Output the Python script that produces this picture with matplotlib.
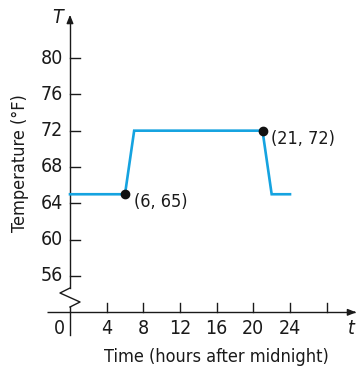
import matplotlib
matplotlib.use("Agg")
import matplotlib.pyplot as plt
from matplotlib import font_manager as fm

hours = [0, 6, 7, 21, 22, 24]
temps = [65, 65, 72, 72, 65, 65]
marked_hours = [6, 21]
marked_temps = [65, 72]
marked_labels = ["(6, 65)", "(21, 72)"]
x_ticks = [4, 8, 12, 16, 20, 24, 28]
x_tick_labels = ["4", "8", "12", "16", "20", "24", ""]
y_ticks = [56, 60, 64, 68, 72, 76, 80]

# prefer a condensed sans font
cond = None
cond_it = None
for f in fm.fontManager.ttflist:
    if ("Narrow" in f.name or f.stretch in ("condensed", "semi-condensed")) and f.weight in (400, "normal", "regular"):
        if f.style == "normal" and cond is None:
            cond = f.fname
        if f.style in ("italic", "oblique") and cond_it is None:
            cond_it = f.fname
if cond:
    FP = lambda size: fm.FontProperties(fname=cond, size=size)
else:
    FP = lambda size: fm.FontProperties(family="Liberation Sans", size=size)
if cond_it:
    FPI = lambda size: fm.FontProperties(fname=cond_it, size=size)
else:
    FPI = lambda size: fm.FontProperties(family="Liberation Sans", style="italic", size=size)

W, H = 362, 368
fig = plt.figure(figsize=(W / 100, H / 100), dpi=100)
ax = fig.add_axes([0, 0, 1, 1])
sx = 220 / 24.0
sy = 218 / 24.0
x0px, y80px = 70, 58
ax.set_xlim(-x0px / sx, (W - x0px) / sx)
ax.set_ylim(80 - (H - y80px) / sy, 80 + y80px / sy)
ax.axis("off")

base = 52
k = "#1a1a1a"
lw = 1.0
# x axis
xa_l, xa_r = -23 / sx, 285 / sx
ax.plot([xa_l, xa_r], [base, base], color=k, lw=lw, solid_capstyle="butt")
ax.annotate("", xy=(xa_r + 4 / sx, base), xytext=(xa_r - 4 / sx, base),
            arrowprops=dict(arrowstyle="-|>,head_length=0.5,head_width=0.2", color=k, lw=lw))
# y axis with break
ytop = 80 + (y80px - 20) / sy
ax.plot([0, 0], [ytop, 56 - 12 / sy], color=k, lw=lw)
zig_x = [0, -10 / sx, 10 / sx, 0]
zig_y = [56 - 12 / sy, 56 - 17 / sy, 56 - 26 / sy, 56 - 31 / sy]
ax.plot(zig_x, zig_y, color=k, lw=lw)
ax.plot([0, 0], [56 - 31 / sy, base - 23 / sy], color=k, lw=lw)
ax.annotate("", xy=(0, ytop + 8 / sy), xytext=(0, ytop - 2 / sy),
            arrowprops=dict(arrowstyle="-|>,head_length=0.5,head_width=0.2", color=k, lw=lw))

fs = 14
for t, lab in zip(x_ticks, x_tick_labels):
    ax.plot([t, t], [base, base + 9 / sy], color=k, lw=lw)
    if lab:
        ax.text(t, base - 16 / sy, lab, ha="center", va="center", fontproperties=FP(fs), color=k)
ax.text(-11 / sx, base - 16 / sy, "0", ha="center", va="center", fontproperties=FP(fs), color=k)
for t in y_ticks:
    ax.plot([0, 10 / sx], [t, t], color=k, lw=lw)
    ax.text(-7 / sx, t, str(t), ha="right", va="center", fontproperties=FP(fs), color=k)

ax.text(-12 / sx, ytop + 3 / sy, "T", ha="center", va="center", fontproperties=FPI(fs), color=k)
ax.text(xa_r - 4 / sx, base - 16 / sy, "t", ha="center", va="center", fontproperties=FPI(fs), color=k)

ax.plot(hours, temps, color="#15a3e0", lw=1.9, solid_joinstyle="miter", zorder=3)
ax.plot(marked_hours, marked_temps, "o", color="#111111", ms=6, zorder=4)
for hx, ty, lab in zip(marked_hours, marked_temps, marked_labels):
    ax.text(hx + 9 / sx, ty - 8 / sy, lab, ha="left", va="center", fontproperties=FP(fs - 1), color=k)

ax.text(146 / sx, base - 45 / sy, "Time (hours after midnight)", ha="center",
        va="center", fontproperties=FP(fs - 1), color=k)
ax.text(-50 / sx, 80 - 105 / sy, "Temperature (°F)", ha="center", va="center",
        rotation=90, fontproperties=FP(fs - 1), color=k)

fig.savefig("out.png", dpi=100)
